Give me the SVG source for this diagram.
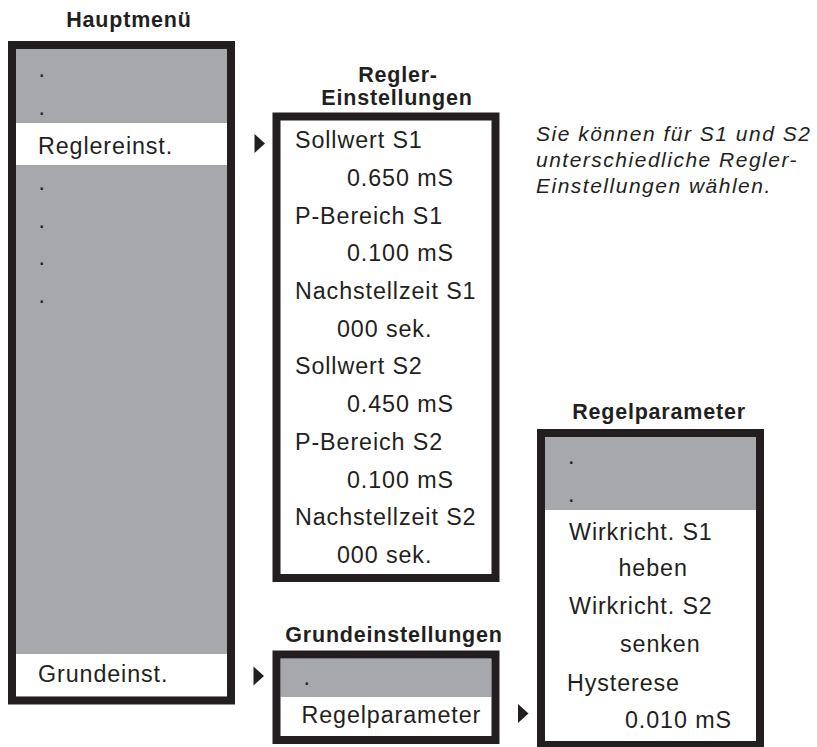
<svg xmlns="http://www.w3.org/2000/svg" width="817" height="747" viewBox="0 0 817 747">
<defs>
<style>
.t{font-family:"Liberation Sans",Arial,Helvetica,sans-serif;font-size:23.3px;fill:#231f20;letter-spacing:0.9px}
.h{font-family:"Liberation Sans",Arial,Helvetica,sans-serif;font-size:21.5px;font-weight:bold;fill:#231f20;letter-spacing:0.8px;text-anchor:middle}
.n{font-family:"Liberation Sans",Arial,Helvetica,sans-serif;font-size:21px;font-style:italic;fill:#231f20;letter-spacing:1.5px}
.box{fill:none;stroke:#231f20;stroke-width:8}
.gray{fill:#a7a8ab}
.white{fill:#ffffff}
.tri{fill:#231f20}
</style>
<path id="tri" d="M0,-9.5 L10.5,0 L0,9.5 Z"/>
</defs>
<rect width="817" height="747" fill="#ffffff"/>

<g id="hauptmenue">
<text class="h" x="129" y="27">Hauptmenü</text>
<rect class="gray" x="16" y="49" width="211" height="647.5"/>
<rect class="white" x="16" y="123" width="211" height="42"/>
<rect class="white" x="16" y="654" width="211" height="42.5"/>
<rect class="box" x="12" y="45" width="219" height="655.5"/>
<text class="t" x="38.5" y="77">.</text>
<text class="t" x="38.5" y="115">.</text>
<text class="t" x="38" y="154">Reglereinst.</text>
<text class="t" x="38.5" y="190">.</text>
<text class="t" x="38.5" y="227.5">.</text>
<text class="t" x="38.5" y="265">.</text>
<text class="t" x="38.5" y="302.5">.</text>
<text class="t" x="38" y="682">Grundeinst.</text>
</g>

<g id="regler-einstellungen">
<text class="h" x="398" y="81.5">Regler-</text>
<text class="h" x="397" y="104.5">Einstellungen</text>
<rect class="white" x="280.5" y="120.5" width="211" height="453.5"/>
<rect class="box" x="276.5" y="116.5" width="219" height="461.5"/>
<text class="t" x="295" y="148.3">Sollwert S1</text>
<text class="t" x="347" y="186">0.650 mS</text>
<text class="t" x="295" y="223.7">P-Bereich S1</text>
<text class="t" x="347" y="261.4">0.100 mS</text>
<text class="t" x="295" y="299">Nachstellzeit S1</text>
<text class="t" x="337" y="336.7">000 sek.</text>
<text class="t" x="295" y="374.4">Sollwert S2</text>
<text class="t" x="347" y="412">0.450 mS</text>
<text class="t" x="295" y="449.8">P-Bereich S2</text>
<text class="t" x="347" y="487.5">0.100 mS</text>
<text class="t" x="295" y="525.2">Nachstellzeit S2</text>
<text class="t" x="337" y="563">000 sek.</text>
</g>

<g id="note">
<text class="n" x="536" y="141">Sie können für S1 und S2</text>
<text class="n" x="536" y="167">unterschiedliche Regler-</text>
<text class="n" x="536" y="193">Einstellungen wählen.</text>
</g>

<g id="grundeinstellungen">
<text class="h" x="394" y="642">Grundeinstellungen</text>
<rect class="gray" x="280.5" y="658.5" width="211" height="38.5"/>
<rect class="white" x="280.5" y="697" width="211" height="39"/>
<rect class="box" x="276.5" y="654.5" width="219" height="85.5"/>
<text class="t" x="303.5" y="685">.</text>
<text class="t" x="301.5" y="723">Regelparameter</text>
</g>

<g id="regelparameter">
<text class="h" x="659" y="418.5">Regelparameter</text>
<rect class="white" x="545" y="437" width="211" height="306"/>
<rect class="gray" x="545" y="437" width="211" height="73"/>
<rect class="box" x="541" y="433" width="219" height="312"/>
<text class="t" x="568" y="463.5">.</text>
<text class="t" x="568" y="502">.</text>
<text class="t" x="569" y="540">Wirkricht. S1</text>
<text class="t" x="618.5" y="576">heben</text>
<text class="t" x="569" y="614">Wirkricht. S2</text>
<text class="t" x="620" y="652">senken</text>
<text class="t" x="567" y="690.5">Hysterese</text>
<text class="t" x="625" y="728">0.010 mS</text>
</g>

<g id="connectors">
<use href="#tri" class="tri" x="254.5" y="143.5"/>
<use href="#tri" class="tri" x="253.5" y="676"/>
<use href="#tri" class="tri" x="518" y="713.5"/>
</g>
</svg>
